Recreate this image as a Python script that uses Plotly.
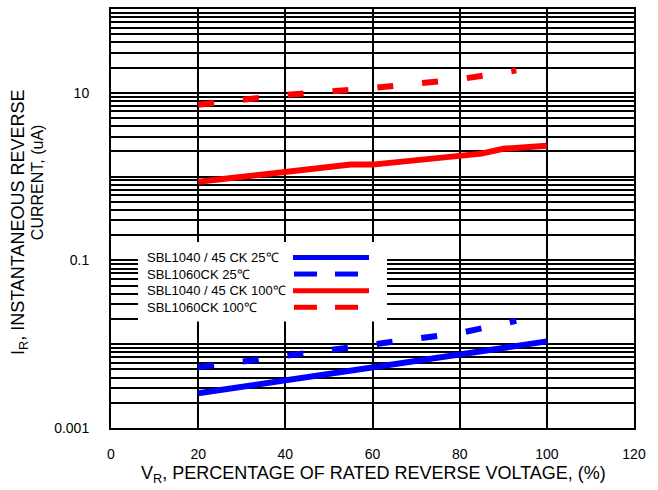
import plotly.graph_objects as go

# ---------------- data ----------------
x_1040_25 = [20, 30, 40, 50, 60, 70, 80, 90, 100]
y_1040_25 = [0.0026, 0.0031, 0.0037, 0.0044, 0.0051, 0.0061, 0.0074, 0.009, 0.0108]

x_1060_25 = [20, 30, 40, 50, 60, 70, 80, 93]
y_1060_25 = [0.0053, 0.0062, 0.0073, 0.0088, 0.0099, 0.0118, 0.0136, 0.019]

x_1040_100 = [20, 30, 40, 50, 55, 60, 70, 80, 85, 90, 100]
y_1040_100 = [0.87, 1.0, 1.15, 1.31, 1.39, 1.39, 1.59, 1.78, 1.88, 2.15, 2.34]

x_1060_100 = [20, 40, 60, 70, 80, 93]
y_1060_100 = [7.2, 9.4, 11.4, 13.0, 14.5, 18.5]

series_names = ["SBL1040 / 45 CK 25℃", "SBL1060CK 25℃",
                "SBL1040 / 45 CK 100℃", "SBL1060CK 100℃"]

x_ticks = [0, 20, 40, 60, 80, 100, 120]
y_ticks = [0.001, 0.1, 10]
y_tick_labels = ["0.001", "0.1", "10"]
y_minor_grid = [k * 10 ** e for e in range(-3, 2) for k in range(1, 10)] + [100]

FONT = "Liberation Sans, Arial, sans-serif"
BLUE = "#0000FF"
RED = "#FF0000"

fig = go.Figure()
styles = [(BLUE, "solid"), (BLUE, "16px,29px"), (RED, "solid"), (RED, "16px,29px")]
data = [(x_1040_25, y_1040_25), (x_1060_25, y_1060_25),
        (x_1040_100, y_1040_100), (x_1060_100, y_1060_100)]
for (xs, ys), (col, dash), name in zip(data, styles, series_names):
    fig.add_trace(go.Scatter(x=xs, y=ys, mode="lines", name=name, showlegend=False,
                             line=dict(color=col, width=6, dash=dash)))

fig.update_layout(
    width=658, height=490,
    margin=dict(l=111, r=24, t=7, b=62),
    paper_bgcolor="white", plot_bgcolor="white",
    font=dict(family=FONT, color="black", size=14),
    showlegend=False,
    xaxis=dict(range=[0, 120], tickvals=x_ticks, showgrid=True, gridcolor="black",
               gridwidth=2, zeroline=False, showline=True, linecolor="black",
               linewidth=2, mirror=True, ticks="outside", ticklen=12,
               tickcolor="rgba(0,0,0,0)", tickfont=dict(size=14, family=FONT)),
    yaxis=dict(type="log", range=[-3, 2], tickvals=y_ticks, ticktext=y_tick_labels,
               showgrid=True, gridcolor="black", gridwidth=2, zeroline=False,
               showline=True, linecolor="black", linewidth=2, mirror=True,
               ticks="outside", ticklen=17, tickcolor="rgba(0,0,0,0)",
               tickfont=dict(size=14, family=FONT),
               minor=dict(tickvals=y_minor_grid, showgrid=True, gridcolor="black",
                          gridwidth=2, ticks="")),
)

def px(xp):
    return (xp - 111) / 523

def py(yp):
    return 1 - (yp - 7) / 421

# x-axis title
fig.add_annotation(xref="paper", yref="paper", x=px(373), y=py(475),
                   yanchor="middle", xanchor="center", showarrow=False,
                   text="V<sub>R</sub>, PERCENTAGE OF RATED REVERSE VOLTAGE, (%)",
                   font=dict(size=18, family=FONT))

# y-axis title (two lines)
fig.add_annotation(xref="paper", yref="paper", x=px(20), y=py(221),
                   xanchor="center", yanchor="middle", showarrow=False, textangle=-90,
                   text="I<sub>R</sub>, INSTANTANEOUS REVERSE",
                   font=dict(size=18, family=FONT))
fig.add_annotation(xref="paper", yref="paper", x=px(37), y=py(181),
                   xanchor="center", yanchor="middle", showarrow=False, textangle=-90,
                   text="CURRENT, (uA)", font=dict(size=16, family=FONT))

# custom legend (text left, line sample right)
fig.add_shape(type="rect", xref="paper", yref="paper", x0=px(138), x1=px(387),
              y0=py(241), y1=py(321), fillcolor="white", line=dict(width=0),
              layer="above")
rows = [256.7, 273.3, 290, 306.7]
for (col, dash), name, yr in zip(styles, series_names, rows):
    fig.add_annotation(xref="paper", yref="paper", x=px(145), y=py(yr),
                       xanchor="left", yanchor="middle", showarrow=False,
                       text=name, font=dict(size=13, family=FONT))
    if dash == "solid":
        fig.add_shape(type="line", xref="paper", yref="paper", x0=px(293), x1=px(369),
                      y0=py(yr), y1=py(yr), line=dict(color=col, width=5),
                      layer="above")
    else:
        for a, b in [(294, 317), (335, 358)]:
            fig.add_shape(type="line", xref="paper", yref="paper", x0=px(a), x1=px(b),
                          y0=py(yr), y1=py(yr), line=dict(color=col, width=5),
                          layer="above")

fig.write_html("out.html", config={"displayModeBar": False},
               post_script="document.body.style.margin='0';")
